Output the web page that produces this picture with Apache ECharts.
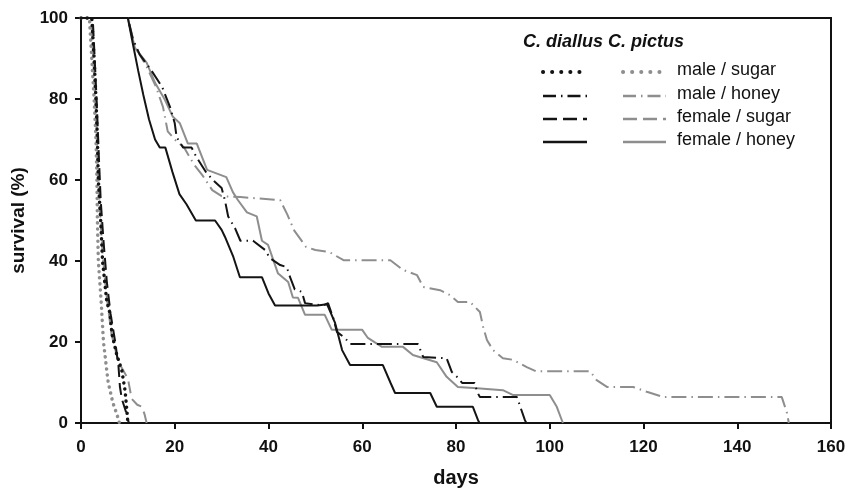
<!DOCTYPE html>
<html>
<head>
<meta charset="utf-8">
<script src="https://cdn.jsdelivr.net/npm/echarts@6/dist/echarts.min.js"></script>
<style>
html,body{margin:0;padding:0;background:#fff;}
#chart{width:847px;height:490px;}
</style>
</head>
<body>
<div id="chart"></div>
<script>
// ---- data (days, survival %) ----
const xTicks = [0, 20, 40, 60, 80, 100, 120, 140, 160];
const yTicks = [0, 20, 40, 60, 80, 100];

const diallusMaleSugar = [[0,100],[2.3,100],[2.8,90],[3.2,80],[3.5,70],[3.7,60],[4.2,50],[4.6,40],[5.5,30],[6.2,27],[6.6,22],[7.6,17],[8.7,13],[9.4,8],[9.8,3],[10,0]];
const pictusMaleSugar = [[0,100],[1.8,100],[2.3,90],[2.8,80],[3.2,70],[3.4,60],[3.5,50],[3.7,40],[4.3,30],[4.8,20],[5.8,10],[6.8,5],[7.7,2],[8.2,0]];
const diallusFemaleSugar = [[0,100],[2.5,100],[3,88],[3.4,78],[3.8,66],[4.2,55],[4.8,45],[5.5,35],[6.3,27],[7.3,20],[8,14],[8.3,9],[8.7,6],[9.8,2],[10.2,0]];
const pictusFemaleSugar = [[0,100],[2.2,100],[2.7,88],[3.2,76],[3.6,64],[4,53],[4.6,42],[5.4,32],[6.5,22],[8,15],[10,11],[10.8,6],[12,4.5],[13,4],[13.6,2],[14,0]];

const diallusFemaleHoney = [[0,100],[10,100],[11,94],[12.2,87],[13.3,81],[14.5,75],[15.8,70],[16.8,68],[18,68],[19.5,62],[21,56.5],[22.5,54],[24.5,50],[28.6,50],[30,47.7],[30.7,46],[32.5,41],[33.9,36],[38.6,36],[40,32],[41.4,29],[50.4,29],[52.5,29.3],[54.2,24.7],[55.7,18],[57.4,14.3],[64.4,14.3],[66,10],[67,7.4],[74.5,7.4],[75.9,4],[83.6,4],[84.7,0.7],[85,0]];
const diallusMaleHoney = [[0,100],[10,100],[11,95],[12.5,91],[14.7,87.6],[17.3,83],[19,78],[20,74],[20.4,70.6],[21.8,68],[23.6,68],[24.6,65.7],[26.8,61.7],[28.6,59.5],[30,58],[30.7,55],[31.4,51],[32.9,48],[34,45],[36.7,45],[39.3,42.7],[40.3,40.7],[42.5,39],[43.9,38.5],[44.6,36],[45.6,33],[47.1,32.4],[47.8,29.6],[51.6,29],[52.7,29.6],[53.8,26],[54.6,22.5],[56.3,21],[57.4,19.5],[71.9,19.5],[73,16.3],[78,16],[79.1,12.6],[80.2,11.4],[81.3,9.9],[84,9.9],[84.5,7.7],[85.1,6.4],[93,6.4],[94.7,0.7],[95,0]];
const pictusFemaleHoney = [[0,100],[10,100],[11.5,92.6],[14,89],[15.8,84],[17.9,79.8],[19.6,75.6],[21.1,74],[22.8,69],[24.7,69],[26.9,62.5],[31,60.7],[32.4,57],[33.5,55],[35.4,52],[37.5,51],[38.6,45],[39.9,44],[42,37],[44.2,34.8],[45.2,31],[46.3,30.9],[47.8,26.7],[52,26.7],[53.5,23],[60,23],[61.2,21],[64.2,18.8],[68.7,18.8],[70.8,16.8],[75.9,15],[78,11.4],[80.4,8.9],[84.5,8.6],[90,8.1],[92.2,6.9],[100,6.9],[101.5,4],[102.8,0]];
const pictusMaleHoney = [[0,100],[10,100],[11.5,93],[14,88],[16,83],[17.5,78],[18.5,72],[20,70],[22,68],[24,64],[26,61],[28,57.5],[30,56],[34,55.8],[42.5,55],[44,51.5],[45.5,47.5],[48,43.5],[50,42.7],[53,42.2],[56,40.2],[66,40.2],[68.7,37.8],[71.7,36.5],[73,33.6],[76.6,32.8],[78.7,31.6],[80.4,29.9],[83,29.9],[85.1,27.4],[85.8,23.7],[86.6,20.5],[87.9,18],[90,16],[92.2,15.6],[95.1,13.8],[97,12.8],[108.6,12.8],[110,10.6],[112.2,8.9],[117.8,8.9],[120.7,7.7],[124.2,6.4],[149.5,6.4],[150.6,2.5],[151,0]];

const legendTitle = 'C. diallus C. pictus';
const legendLabels = ['male / sugar', 'male / honey', 'female / sugar', 'female / honey'];

// ---- styles ----
const BLACK = '#141414';
const GRAY = '#8e8e8e';
const DOT = [0.1, 6];
const DASHDOT = [15, 5, 1.5, 5];
const DASH = [12, 6];

function mk(name, data, color, type, width, cap) {
  return {
    name, type: 'line', data, showSymbol: false, symbol: 'none', silent: true,
    lineStyle: { color, width, type, cap: cap || 'butt' }, z: color === BLACK ? 3 : 2,
    animation: false
  };
}

const series = [
  mk('pictus male/sugar', pictusMaleSugar, GRAY, DOT, 3.5, 'round'),
  mk('pictus female/sugar', pictusFemaleSugar, GRAY, DASH, 2),
  mk('pictus male/honey', pictusMaleHoney, GRAY, DASHDOT, 2),
  mk('pictus female/honey', pictusFemaleHoney, GRAY, 'solid', 2),
  mk('diallus male/sugar', diallusMaleSugar, BLACK, DOT, 3.5, 'round'),
  mk('diallus female/sugar', diallusFemaleSugar, BLACK, DASH, 2),
  mk('diallus male/honey', diallusMaleHoney, BLACK, DASHDOT, 2),
  mk('diallus female/honey', diallusFemaleHoney, BLACK, 'solid', 2)
];

// ---- legend (drawn with graphic) ----
const legRowsY = [72, 96, 119, 142];
const legStyles = [
  { dash: [0.1, 9], w: 4, cap: 'round' },
  { dash: [13, 5, 1.5, 5], w: 2.5, cap: 'butt' },
  { dash: [14, 6], w: 2.5, cap: 'butt' },
  { dash: null, w: 2.5, cap: 'butt' }
];
const graphic = [{
  type: 'text', left: 523, top: 33,
  style: { text: legendTitle, font: 'italic bold 18px "Liberation Sans", Arial, sans-serif', fill: '#111' }
}];
legStyles.forEach((s, i) => {
  const y = legRowsY[i];
  graphic.push({ type: 'line', shape: { x1: 543, y1: y, x2: 587, y2: y },
    style: { stroke: BLACK, lineWidth: s.w, lineDash: s.dash, lineCap: s.cap } });
  graphic.push({ type: 'line', shape: { x1: 623, y1: y, x2: 666, y2: y },
    style: { stroke: GRAY, lineWidth: s.w, lineDash: s.dash, lineCap: s.cap } });
  graphic.push({ type: 'text', left: 677, top: y - 11,
    style: { text: legendLabels[i], font: '18px "Liberation Sans", Arial, sans-serif', fill: '#111' } });
});

const chart = echarts.init(document.getElementById('chart'), null, { renderer: 'canvas' });
const axisFont = { color: '#111', fontWeight: 'bold', fontSize: 17, fontFamily: '"Liberation Sans", Arial, sans-serif' };
chart.setOption({
  animation: false,
  backgroundColor: '#fff',
  grid: { left: 81, right: 16, top: 18, bottom: 67, containLabel: false, outerBoundsMode: 'none',
          show: true, borderColor: '#111', borderWidth: 2, backgroundColor: 'transparent' },
  xAxis: {
    type: 'value', min: xTicks[0], max: xTicks[xTicks.length - 1], interval: 20,
    name: 'days', nameLocation: 'middle', nameGap: 45,
    nameTextStyle: { color: '#111', fontWeight: 'bold', fontSize: 20, fontFamily: '"Liberation Sans", Arial, sans-serif' },
    axisLine: { show: true, lineStyle: { color: '#111', width: 2 } },
    axisTick: { show: true, length: 6, lineStyle: { color: '#111', width: 2 } },
    axisLabel: Object.assign({ margin: 16 }, axisFont),
    splitLine: { show: false }
  },
  yAxis: {
    type: 'value', min: yTicks[0], max: yTicks[yTicks.length - 1], interval: 20,
    name: 'survival (%)', nameLocation: 'middle', nameGap: 48,
    nameTextStyle: { color: '#111', fontWeight: 'bold', fontSize: 19, fontFamily: '"Liberation Sans", Arial, sans-serif' },
    axisLine: { show: true, lineStyle: { color: '#111', width: 2 } },
    axisTick: { show: true, length: 6, lineStyle: { color: '#111', width: 2 } },
    axisLabel: Object.assign({ margin: 13 }, axisFont),
    splitLine: { show: false }
  },
  graphic,
  series
});
</script>
</body>
</html>
